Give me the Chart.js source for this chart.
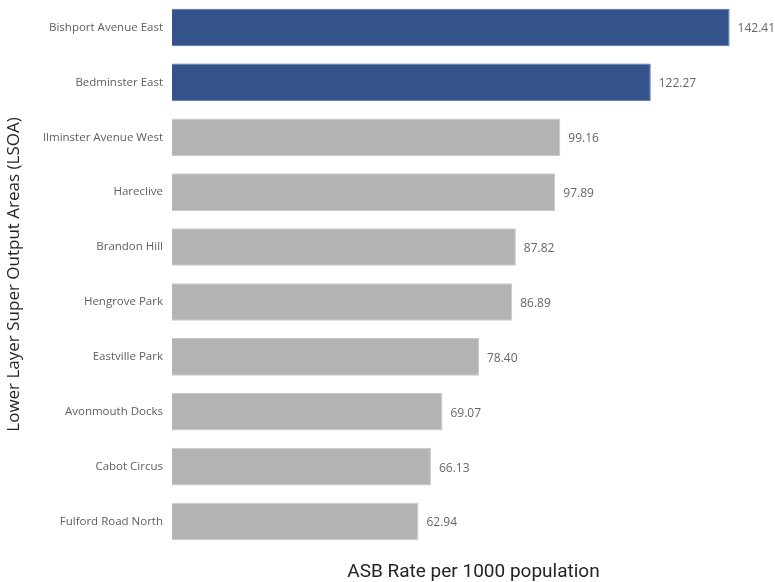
<!DOCTYPE html>
<html>
<head>
<meta charset="utf-8">
<script src="https://cdn.jsdelivr.net/npm/chart.js@4"></script>
<style>
  html, body { margin: 0; padding: 0; background: #fff; }
  #wrap { width: 775px; height: 582px; }
</style>
</head>
<body>
<div id="wrap"><canvas id="graficoASB"></canvas></div>
<script>
    const areas = ["Bishport Avenue East", "Bedminster East", "Ilminster Avenue West", "Hareclive", "Brandon Hill",
      "Hengrove Park", "Eastville Park", "Avonmouth Docks", "Cabot Circus", "Fulford Road North"];
    const tasas = [142.41, 122.27, 99.16, 97.89, 87.82, 86.89, 78.40, 69.07, 66.13, 62.94];
    const destacadas = 2; // las dos primeras van en azul

    const colores = tasas.map((v, i) => i < destacadas ? '#34538a' : '#b3b3b3');
    const bordes = tasas.map((v, i) => i < destacadas ? '#5672a3' : '#c8c8c8');

    // etiqueta con el valor al final de cada barra
    const etiquetas = {
      id: 'etiquetas',
      afterDatasetsDraw(chart) {
        const ctx = chart.ctx;
        const meta = chart.getDatasetMeta(0);
        ctx.save();
        ctx.font = '12px "Open Sans"';
        ctx.fillStyle = '#666';
        ctx.textAlign = 'left';
        ctx.textBaseline = 'middle';
        meta.data.forEach((bar, i) => {
          ctx.fillText(tasas[i].toFixed(2), bar.x + 8, bar.y + 1.5);
        });
        ctx.restore();
      }
    };

    const ctxASB = document.getElementById('graficoASB').getContext('2d');
    const graficoASB = new Chart(ctxASB, {
      type: 'bar',
      data: {
        labels: areas,
        datasets: [{
          label: 'ASB Rate',
          data: tasas,
          backgroundColor: colores,
          borderColor: bordes,
          borderWidth: 1,
          barPercentage: 0.685,
          categoryPercentage: 1
        }]
      },
      options: {
        indexAxis: 'y',
        responsive: true,
        maintainAspectRatio: false,
        animation: false,
        layout: { padding: 0 },
        plugins: { legend: { display: false }, tooltip: { enabled: false } },
        scales: {
          x: {
            min: 0,
            max: 154,
            grid: { display: false, drawTicks: false },
            border: { display: false },
            ticks: { display: false },
            title: {
              display: true,
              text: 'ASB Rate per 1000 population',
              color: '#252423',
              font: { family: 'Roboto', size: 19, lineHeight: 1 },
              padding: 0
            },
            afterFit(scale) { scale.height = 33; }
          },
          y: {
            grid: { display: false, drawTicks: false },
            border: { display: false },
            ticks: {
              color: '#605e5c',
              font: { family: '"Open Sans"', size: 11.5 },
              padding: 9
            },
            title: {
              display: true,
              text: 'Lower Layer Super Output Areas (LSOA)',
              color: '#252423',
              font: { family: '"Open Sans"', size: 17 },
              padding: { top: 4, bottom: 0 }
            },
            afterFit(scale) {
              scale.width = 172;
              scale.paddingTop = 0;
              scale.paddingBottom = 0;
            }
          }
        }
      },
      plugins: [etiquetas]
    });
</script>
</body>
</html>
